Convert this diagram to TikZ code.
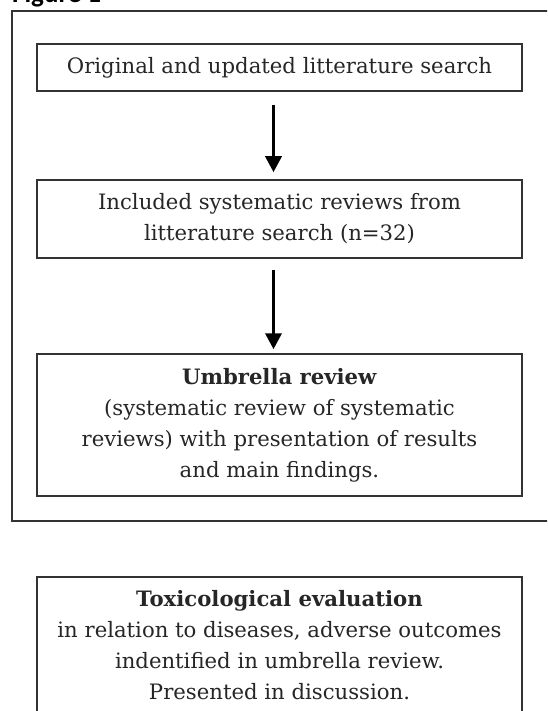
\documentclass[tikz,border=0pt]{standalone}
\usepackage{fontspec}
\setmainfont{DejaVu Serif}
\newfontfamily\figfont{Carlito}
\usetikzlibrary{arrows.meta}
\definecolor{boxline}{HTML}{333333}
\tikzset{
  box/.style={draw=boxline, line width=1.5pt, minimum width=485pt, align=center, inner sep=0pt,
              font=\fontsize{21.2}{31}\selectfont, text=black!85},
  arr/.style={line width=3.5pt, -{Triangle[width=16pt,length=16pt]}},
  frame/.style={draw=boxline, line width=1.8pt}
}
\begin{document}
\begin{tikzpicture}[x=1pt,y=-1pt]
\useasboundingbox (0,0) rectangle (547,711);
\clip (0,0) rectangle (547,711);
\fill[white] (0,0) rectangle (547,711);
\node[anchor=base west, font=\figfont\bfseries\fontsize{27}{30}\selectfont, inner sep=0pt] (fig) at (12,3) {Figure 1};
\draw[frame] (12,11) rectangle (570,521);
\node[box, minimum height=47pt] (b1) at (279.5,67.5) {Original and updated litterature search};
\node[box, minimum height=78pt] (b2) at (279.5,219) {Included systematic reviews from\\litterature search (n=32)};
\node[box, minimum height=142pt] (b3) at (279.5,425) {\textbf{Umbrella review}\\(systematic review of systematic\\reviews) with presentation of results\\and main findings.};
\node[box, minimum height=137pt] (b4) at (279.5,645.5) {\textbf{Toxicological evaluation}\\in relation to diseases, adverse outcomes\\indentified in umbrella review.\\Presented in discussion.};
\draw[arr, shorten <=13pt, shorten >=7pt] ([xshift=-6pt]b1.south) -- ([xshift=-6pt]b2.north);
\draw[arr, shorten <=11pt, shorten >=4pt] ([xshift=-6pt]b2.south) -- ([xshift=-6pt]b3.north);
\end{tikzpicture}
\end{document}
